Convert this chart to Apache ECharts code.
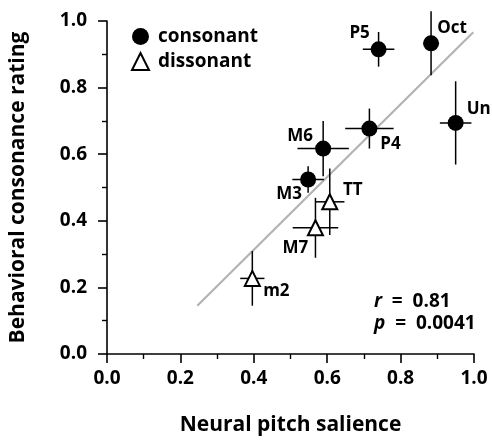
<!DOCTYPE html>
<html>
<head>
<meta charset="utf-8">
<script src="https://cdn.jsdelivr.net/npm/echarts@6/dist/echarts.min.js"></script>
<style>
  html, body { margin: 0; padding: 0; background: #fff; }
  #chart { width: 492px; height: 441px; }
</style>
</head>
<body>
<div id="chart"></div>
<script>
// consonant intervals: name, x, y, x error, y error
const consNames = ['P5', 'Oct', 'Un', 'P4', 'M6', 'M3'];
const consX     = [0.740, 0.883, 0.950, 0.715, 0.589, 0.548];
const consY     = [0.915, 0.933, 0.694, 0.677, 0.617, 0.524];
const consXErr  = [0.043, 0.020, 0.043, 0.066, 0.070, 0.043];
const consYErr  = [0.052, 0.096, 0.125, 0.060, 0.083, 0.040];

// dissonant intervals
const dissNames = ['TT', 'M7', 'm2'];
const dissX     = [0.607, 0.568, 0.396];
const dissY     = [0.457, 0.379, 0.227];
const dissXErr  = [0.040, 0.062, 0.033];
const dissYErr  = [0.100, 0.090, 0.082];

// regression fit line ends
const fitX = [0.246, 0.998];
const fitY = [0.145, 0.966];

const axisTicks = [0, 0.2, 0.4, 0.6, 0.8, 1.0];

// label offsets from the marker centre (px)
const labelOffset = {
  P5: [-19, -16], Oct: [21, -15], Un: [23, -14], P4: [21, 16],
  M6: [-23, -12], M3: [-19, 15], TT: [23, -12], M7: [-20, 20], m2: [24, 13]
};

const FONT = '"Open Sans", "Liberation Sans", sans-serif';

function points(names, xs, ys) {
  return names.map((n, i) => ({
    name: n,
    value: [xs[i], ys[i]],
    label: { offset: labelOffset[n] }
  }));
}

function errRows(xs, ys, xe, ye) {
  return xs.map((x, i) => [x, ys[i], xe[i], ye[i]]);
}

const errData = errRows(consX, consY, consXErr, consYErr)
  .concat(errRows(dissX, dissY, dissXErr, dissYErr));

const chart = echarts.init(document.getElementById('chart'));

const axisCommon = {
  type: 'value',
  min: 0,
  max: 1,
  interval: 0.2,
  axisLine: { show: true, lineStyle: { color: '#000', width: 1.6 } },
  axisTick: { show: true, length: 9, lineStyle: { color: '#000', width: 1.6 } },
  minorTick: { show: true, splitNumber: 2, length: 5, lineStyle: { color: '#000', width: 1.4 } },
  splitLine: { show: false },
  nameLocation: 'middle',
  nameTextStyle: { fontFamily: FONT, fontWeight: 'bold', fontSize: 21, color: '#000' },
  axisLabel: {
    fontFamily: FONT, fontWeight: 'bold', fontSize: 19, color: '#000',
    formatter: v => axisTicks.includes(Math.round(v * 10) / 10) ? v.toFixed(1) : ''
  }
};

const labelStyle = {
  show: true, position: 'inside', formatter: '{b}', opacity: 1,
  color: '#000', fontFamily: FONT, fontWeight: 'bold', fontSize: 17
};

const statRich = { i: { fontStyle: 'italic', fontWeight: 'bold', fontSize: 19, fontFamily: FONT, fill: '#000' } };

chart.setOption({
  animation: false,
  grid: { left: 106, top: 21, right: 18, bottom: 86 },
  xAxis: Object.assign({}, axisCommon, {
    name: 'Neural pitch salience',
    nameGap: 61,
    axisLabel: Object.assign({}, axisCommon.axisLabel, { margin: 15 })
  }),
  yAxis: Object.assign({}, axisCommon, {
    name: 'Behavioral consonance rating',
    nameGap: 78,
    axisLabel: Object.assign({}, axisCommon.axisLabel, { margin: 20 })
  }),
  legend: {
    orient: 'vertical',
    left: 126,
    top: 22,
    itemGap: 6,
    itemWidth: 17,
    itemHeight: 17,
    textStyle: { fontFamily: FONT, fontWeight: 'bold', fontSize: 19, color: '#000', padding: [0, 0, 0, 4] },
    data: [
      { name: 'consonant', icon: 'circle' },
      { name: 'dissonant', icon: 'triangle' }
    ]
  },
  graphic: [
    {
      type: 'text', left: 374, top: 292,
      style: {
        text: '{i|r}  =  0.81',
        font: 'bold 19px ' + FONT, fill: '#000',
        rich: statRich
      }
    },
    {
      type: 'text', left: 374, top: 314,
      style: {
        text: '{i|p}  =  0.0041',
        font: 'bold 19px ' + FONT, fill: '#000',
        rich: statRich
      }
    }
  ],
  series: [
    {
      name: 'fit',
      type: 'line',
      data: fitX.map((x, i) => [x, fitY[i]]),
      symbol: 'none',
      lineStyle: { color: '#b3b3b3', width: 2.2 },
      z: 1,
      silent: true
    },
    {
      name: 'err',
      type: 'custom',
      data: errData,
      z: 2,
      renderItem: function (params, api) {
        const x = api.value(0), y = api.value(1);
        const xe = api.value(2), ye = api.value(3);
        const l = api.coord([x - xe, y]);
        const r = api.coord([x + xe, y]);
        const t = api.coord([x, y + ye]);
        const b = api.coord([x, y - ye]);
        const st = { stroke: '#000', lineWidth: 1.5 };
        return {
          type: 'group',
          children: [
            { type: 'line', shape: { x1: l[0], y1: l[1], x2: r[0], y2: r[1] }, style: st },
            { type: 'line', shape: { x1: t[0], y1: t[1], x2: b[0], y2: b[1] }, style: st }
          ]
        };
      }
    },
    {
      name: 'consonant',
      type: 'scatter',
      data: points(consNames, consX, consY),
      symbol: 'circle',
      symbolSize: 16,
      itemStyle: { color: '#000', opacity: 1 },
      z: 3,
      label: labelStyle
    },
    {
      name: 'dissonant',
      type: 'scatter',
      data: points(dissNames, dissX, dissY),
      symbol: 'triangle',
      symbolSize: 15,
      itemStyle: { color: '#fff', borderColor: '#000', borderWidth: 2, opacity: 1 },
      z: 3,
      label: labelStyle
    }
  ]
});
</script>
</body>
</html>
